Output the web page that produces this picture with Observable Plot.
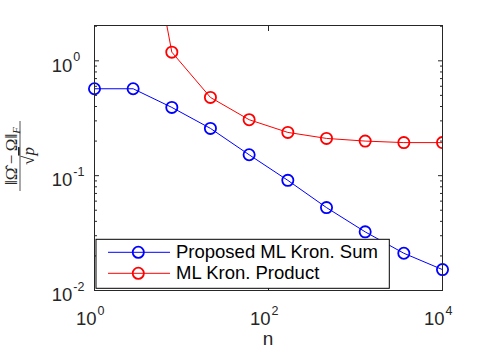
<!DOCTYPE html>
<html>
<head>
<meta charset="utf-8">
<script src="https://cdn.jsdelivr.net/npm/d3@7"></script>
<script src="https://cdn.jsdelivr.net/npm/@observablehq/plot@0.6"></script>
<style>
  html, body { margin: 0; padding: 0; background: #fff; }
  #chart { width: 488px; height: 355px; }
</style>
</head>
<body>
<div id="chart"></div>
<script>
// ---- data ----
const sumN = [1, 2.78, 7.74, 21.5, 59.9, 166.8, 464.2, 1291.5, 3593.8, 10000];
const sumErr = [0.571, 0.571, 0.393, 0.258, 0.152, 0.091, 0.0527, 0.0324, 0.0211, 0.0152];
const prodN = [2.78, 7.74, 21.5, 59.9, 166.8, 464.2, 1291.5, 3593.8, 10000];
const prodErr = [75, 1.19, 0.48, 0.307, 0.238, 0.211, 0.200, 0.194, 0.194];
const seriesNames = ["Proposed ML Kron. Sum", "ML Kron. Product"];
const seriesColors = ["#0000ff", "#ff0000"];
const xTicks = [1, 100, 10000];
const xTickExp = ["0", "2", "4"];
const yTicks = [0.01, 0.1, 1];
const yTickExp = ["-2", "-1", "0"];
const yMinorTicks = [0.02, 0.03, 0.04, 0.05, 0.06, 0.07, 0.08, 0.09,
                     0.2, 0.3, 0.4, 0.5, 0.6, 0.7, 0.8, 0.9, 2];
const xLabel = "n";

const sumData = sumN.map((n, i) => ({n, e: sumErr[i]}));
const prodData = prodN.map((n, i) => ({n, e: prodErr[i]}));

const font = "'Liberation Sans', Arial, Helvetica, sans-serif";
const axisColor = "#262626";

const plot = Plot.plot({
  width: 488,
  height: 355,
  marginLeft: 94,
  marginRight: 46,
  marginTop: 25,
  marginBottom: 65,
  style: {fontFamily: font, background: "#fff", color: axisColor},
  x: {type: "log", domain: [1, 10000]},
  y: {type: "log", domain: [0.01, 2.03]},
  marks: [
    // inward ticks
    Plot.axisX({anchor: "bottom", ticks: xTicks, tickSize: -5, tickFormat: () => "", label: null, stroke: axisColor}),
    Plot.axisX({anchor: "top", ticks: xTicks, tickSize: -5, tickFormat: () => "", label: null, stroke: axisColor}),
    Plot.axisY({anchor: "left", ticks: yTicks, tickSize: -5, tickFormat: () => "", label: null, stroke: axisColor}),
    Plot.axisY({anchor: "right", ticks: yTicks, tickSize: -5, tickFormat: () => "", label: null, stroke: axisColor}),
    Plot.axisY({anchor: "left", ticks: yMinorTicks, tickSize: -3, tickFormat: () => "", label: null, stroke: axisColor}),
    Plot.axisY({anchor: "right", ticks: yMinorTicks, tickSize: -3, tickFormat: () => "", label: null, stroke: axisColor}),
    // tick labels 10^k
    Plot.text(xTicks, {x: d => d, text: () => "10", frameAnchor: "bottom", dy: 34.3, dx: 2,
      lineAnchor: "bottom", textAnchor: "end", fontSize: 18.5, fill: axisColor, fontFamily: font}),
    Plot.text(xTicks, {x: d => d, text: (d, i) => xTickExp[i], frameAnchor: "bottom", dy: 24, dx: 3,
      lineAnchor: "bottom", textAnchor: "start", fontSize: 12.5, fill: axisColor, fontFamily: font}),
    Plot.text(yTicks, {y: d => d, text: () => "10", frameAnchor: "left", dx: -22.2, dy: 10.7,
      lineAnchor: "bottom", textAnchor: "end", fontSize: 18.5, fill: axisColor, fontFamily: font}),
    Plot.text(yTicks, {y: d => d, text: (d, i) => yTickExp[i], frameAnchor: "left", dx: -21.2, dy: 0,
      lineAnchor: "bottom", textAnchor: "start", fontSize: 12.5, fill: axisColor, fontFamily: font}),
    // data
    Plot.line(prodData, {x: "n", y: "e", stroke: seriesColors[1], strokeWidth: 1, clip: true}),
    Plot.dot(prodData, {x: "n", y: "e", r: 5.6, stroke: seriesColors[1], strokeWidth: 1.8, fill: "none", clip: true}),
    Plot.line(sumData, {x: "n", y: "e", stroke: seriesColors[0], strokeWidth: 1}),
    Plot.dot(sumData, {x: "n", y: "e", r: 5.6, stroke: seriesColors[0], strokeWidth: 1.8, fill: "none"}),
    Plot.frame({stroke: axisColor, strokeWidth: 1})
  ]
});

document.getElementById("chart").appendChild(plot);

const svg = d3.select(plot);

// x label
svg.append("text")
  .attr("x", 268).attr("y", 345)
  .attr("text-anchor", "middle")
  .attr("font-family", font).attr("font-size", 19)
  .attr("fill", axisColor)
  .text(xLabel);

// y label: ||Ω̂ − Ω||_F / √p
const serif = "'Liberation Serif', 'DejaVu Serif', serif";
const yl = svg.append("g").attr("transform", "translate(20,156) rotate(-90)")
  .attr("fill", axisColor).attr("font-family", serif);
const num = yl.append("text").attr("x", 0).attr("y", -3.5)
  .attr("text-anchor", "middle").attr("font-size", 17);
num.append("tspan").text("\u2016\u03A9\u0302\u2009\u2212\u2009\u03A9\u2016");
num.append("tspan").attr("font-size", 11).attr("font-style", "italic").attr("dy", 3).text("F");
yl.append("line").attr("x1", -35).attr("x2", 35).attr("y1", 0).attr("y2", 0)
  .attr("stroke", axisColor).attr("stroke-width", 0.8);
const den = yl.append("text").attr("x", 0).attr("y", 14)
  .attr("text-anchor", "middle").attr("font-size", 17);
den.append("tspan").text("\u221A");
den.append("tspan").attr("font-style", "italic").attr("text-decoration", "overline").text("p");

// legend
const lg = svg.append("g");
lg.append("rect").attr("x", 96).attr("y", 239.3).attr("width", 293.3).attr("height", 49)
  .attr("fill", "#fff").attr("stroke", "#000").attr("stroke-width", 1);
seriesNames.forEach((name, i) => {
  const cy = 252.3 + i * 21;
  lg.append("line").attr("x1", 108).attr("x2", 170).attr("y1", cy).attr("y2", cy)
    .attr("stroke", seriesColors[i]).attr("stroke-width", 1);
  lg.append("circle").attr("cx", 138.3).attr("cy", cy).attr("r", 5.6)
    .attr("fill", "none").attr("stroke", seriesColors[i]).attr("stroke-width", 1.8);
  lg.append("text").attr("x", 176).attr("y", cy + 5.2)
    .attr("text-anchor", "start")
    .attr("font-family", font).attr("font-size", 18.5).attr("fill", "#000")
    .text(name);
});
</script>
</body>
</html>
